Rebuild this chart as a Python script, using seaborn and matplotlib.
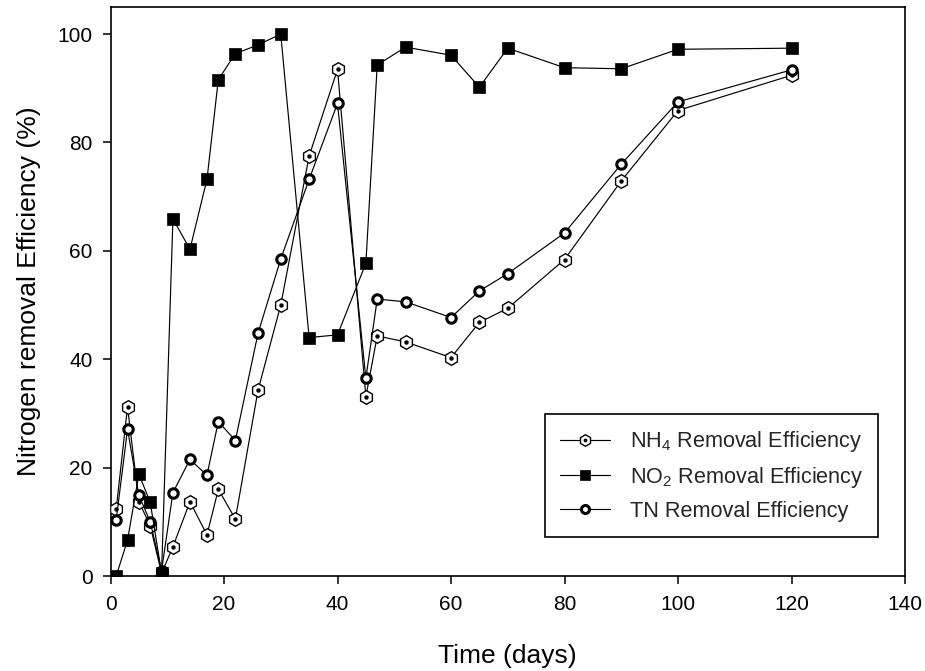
import matplotlib
matplotlib.use("Agg")
import matplotlib.pyplot as plt
import seaborn as sns
from matplotlib.legend_handler import HandlerTuple

# ---- data ----
days = [1, 3, 5, 7, 9, 11, 14, 17, 19, 22, 26, 30, 35, 40, 45, 47, 52, 60, 65, 70, 80, 90, 100, 120]
nh4 = [12.3, 31.2, 13.7, 9.3, 0.5, 5.4, 13.7, 7.6, 16.0, 10.5, 34.3, 50.0, 77.5, 93.5, 33.1, 44.3,
       43.2, 40.3, 46.8, 49.4, 58.4, 72.9, 85.9, 92.4]
no2 = [0.0, 6.6, 18.8, 13.6, 0.5, 65.9, 60.3, 73.2, 91.6, 96.4, 98.0, 100.0, 44.0, 44.5, 57.7, 94.3,
       97.6, 96.1, 90.2, 97.4, 93.8, 93.6, 97.2, 97.4]
tn = [10.3, 27.1, 14.9, 10.0, 1.0, 15.4, 21.5, 18.6, 28.5, 25.0, 44.8, 58.5, 73.2, 87.2, 36.5, 51.1,
      50.6, 47.7, 52.6, 55.8, 63.3, 76.0, 87.5, 93.4]
series_labels = [r"NH$_\mathregular{4}$ Removal Efficiency",
                 r"NO$_\mathregular{2}$ Removal Efficiency",
                 "TN Removal Efficiency"]
x_ticks = [0, 20, 40, 60, 80, 100, 120, 140]
y_ticks = [0, 20, 40, 60, 80, 100]

sns.set_style("white")
plt.rcParams["font.family"] = ["Liberation Sans", "DejaVu Sans"]
plt.rcParams["mathtext.fontset"] = "custom"
plt.rcParams["mathtext.rm"] = "Liberation Sans"
plt.rcParams["mathtext.it"] = "Liberation Sans:italic"
plt.rcParams["mathtext.bf"] = "Liberation Sans:bold"

fig = plt.figure(figsize=(9.25, 6.71), dpi=100)
ax = fig.add_axes([110.5 / 925, 1 - 576 / 671, (905 - 110.5) / 925, (576 - 7) / 671])

lw = 0.85
sns.lineplot(x=days, y=nh4, ax=ax, color="black", lw=lw, marker="h", markersize=9.8,
             markerfacecolor="white", markeredgecolor="black", markeredgewidth=1.0, zorder=3)
h_nh4 = ax.lines[-1]
sns.lineplot(x=days, y=nh4, ax=ax, color="black", linestyle="none", marker="o", markersize=3.2,
             markerfacecolor="black", markeredgecolor="black", markeredgewidth=0, zorder=4)
h_nh4_dot = ax.lines[-1]
sns.lineplot(x=days, y=tn, ax=ax, color="black", lw=lw, marker="o", markersize=6.8,
             markerfacecolor="white", markeredgecolor="black", markeredgewidth=2.2, zorder=5)
h_tn = ax.lines[-1]
sns.lineplot(x=days, y=no2, ax=ax, color="black", lw=lw, marker="s", markersize=9,
             markerfacecolor="black", markeredgecolor="black", markeredgewidth=0.5, zorder=6)
h_no2 = ax.lines[-1]

ax.set_xlim(0, 140)
ax.set_ylim(0, 105)
ax.set_xticks(x_ticks)
ax.set_yticks(y_ticks)
ax.tick_params(axis="both", direction="out", length=6, width=1.1, labelsize=15,
               colors="black", left=True, bottom=True)
ax.tick_params(axis="y", pad=7)
ax.tick_params(axis="x", pad=8)
for s in ax.spines.values():
    s.set_visible(True)
    s.set_color("black")
    s.set_linewidth(1.2)

ax.set_xlabel("Time (days)", fontsize=19, labelpad=21, color="black")
ax.set_ylabel("Nitrogen removal Efficiency (%)", fontsize=19, labelpad=12, color="black")

leg = ax.legend([(h_nh4, h_nh4_dot), h_no2, h_tn], series_labels,
                handler_map={tuple: HandlerTuple(ndivide=1, pad=0)},
                loc="upper left", bbox_to_anchor=((545 - 110.5) / 794.5, (576 - 414) / 569),
                borderaxespad=0, fontsize=15.6, handlelength=2.3, handletextpad=0.9,
                borderpad=0.7, labelspacing=0.5, markerscale=0.85,
                frameon=True, fancybox=False, framealpha=1, edgecolor="black")
leg.get_frame().set_linewidth(1.2)

fig.savefig("out.png", dpi=100)
